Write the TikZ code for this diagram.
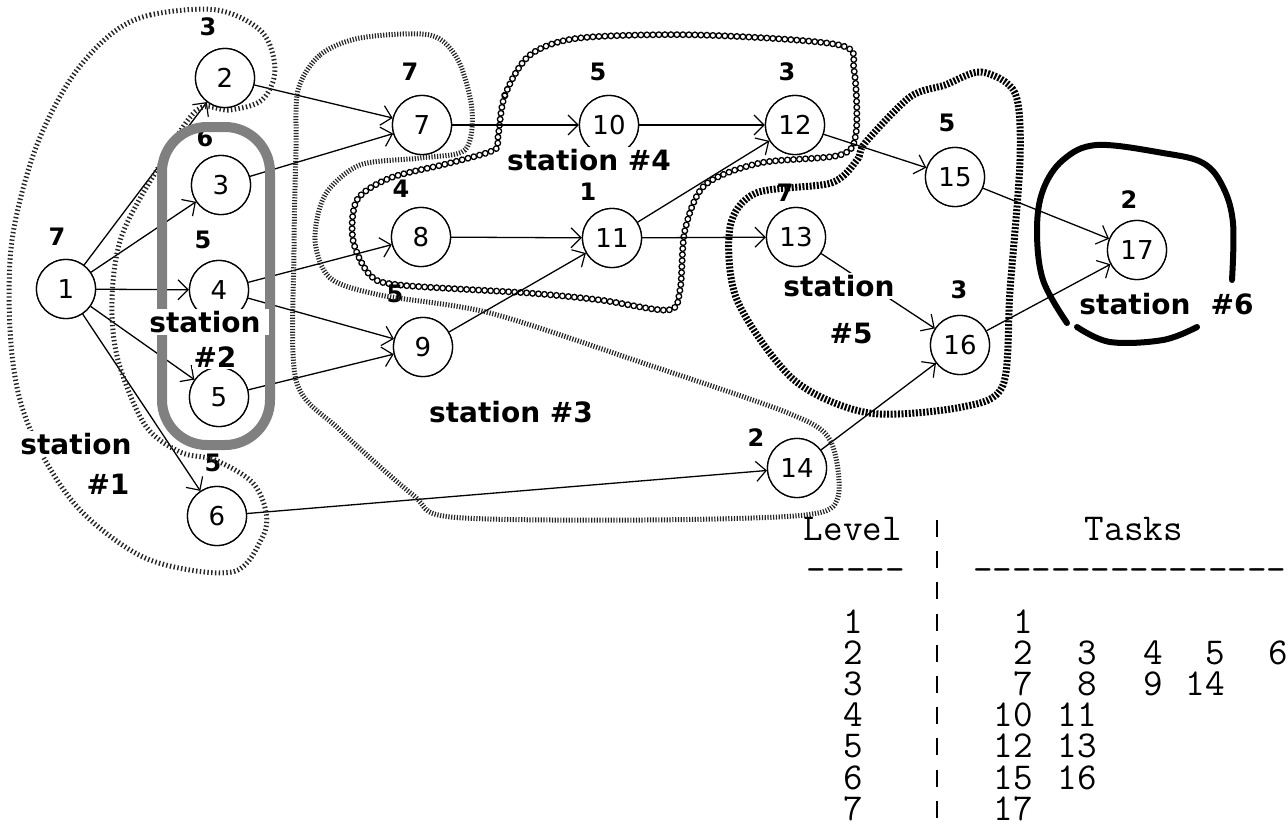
\documentclass[tikz,border=0pt]{standalone}
\usepackage{fontspec}
\usetikzlibrary{arrows.meta,decorations.markings}
\newfontfamily\gfont{DejaVu Sans}
\begin{document}
\begin{tikzpicture}[x=1pt,y=-1pt,
  task/.style={circle,draw,line width=1.3pt,fill=white,minimum size=59pt,inner sep=0pt,font=\gfont\fontsize{26}{26}\selectfont},
  wt/.style={font=\gfont\bfseries\fontsize{24}{24}\selectfont,inner sep=0pt},
  stlab/.style={font=\gfont\bfseries\fontsize{28}{28}\selectfont,fill=white,inner sep=2pt},
  conn/.style={line width=1.3pt,-{Straight Barb[length=10pt,width=20pt,line width=1.2pt]}},
  stone/.style={line width=5pt,draw=black!85,dash pattern=on 1.4pt off 2.4pt},
  sttwo/.style={line width=10pt,draw=black!50},
  stthree/.style={line width=5pt,draw=black!85,dash pattern=on 1.2pt off 1.6pt},
  stfour/.style={decorate,decoration={markings,mark=between positions 0 and 1 step 6pt with {\draw[line width=1.3pt] (0,0) circle (2.8pt);}}},
  stfive/.style={line width=7pt,draw=black,dash pattern=on 2pt off 1.6pt},
  stsix/.style={line width=6pt,draw=black,line cap=round},
  tabtxt/.style={font=\ttfamily\fontsize{38}{38}\selectfont,inner sep=0pt,anchor=base east,text height=24pt,text depth=0pt}
]
\useasboundingbox (0,0) rectangle (1288,827);

% task nodes
\node[task] (n1) at (66,289) {1};
\node[task] (n2) at (225,78) {2};
\node[task] (n3) at (221,185) {3};
\node[task] (n4) at (219,290) {4};
\node[task] (n5) at (219,397) {5};
\node[task] (n6) at (217,516) {6};
\node[task] (n7) at (422,125) {7};
\node[task] (n8) at (421,237) {8};
\node[task] (n9) at (423,347) {9};
\node[task] (n10) at (609,125) {10};
\node[task] (n11) at (612,238) {11};
\node[task] (n12) at (795,125) {12};
\node[task] (n13) at (796,237) {13};
\node[task] (n14) at (797,468) {14};
\node[task] (n15) at (955,177) {15};
\node[task] (n16) at (960,345) {16};
\node[task] (n17) at (1137,250) {17};

% connectors
\foreach \a/\b in {n1/n2,n1/n3,n1/n4,n1/n5,n1/n6,n2/n7,n3/n7,n4/n8,n4/n9,n5/n9,n6/n14,n7/n10,n8/n11,n9/n11,n10/n12,n11/n12,n11/n13,n12/n15,n13/n16,n14/n16,n15/n17,n16/n17}
  \draw[conn] (\a) -- (\b);

% weights
\node[wt] (w1) at (57,237) {7};
\node[wt] (w2) at (208,27) {3};
\node[wt] (w3) at (205,138) {6};
\node[wt] (w4) at (203,240) {5};
\node[wt] (w6) at (213,463) {5};
\node[wt] (w7) at (410,72) {7};
\node[wt] (w8) at (401,189) {4};
\node[wt] (w9) at (395,294) {5};
\node[wt] (w10) at (598,72) {5};
\node[wt] (w11) at (588,192) {1};
\node[wt] (w12) at (787,72) {3};
\node[wt] (w13) at (785,193) {7};
\node[wt] (w14) at (756,438) {2};
\node[wt] (w15) at (947,123) {5};
\node[wt] (w16) at (959,290) {3};
\node[wt] (w17) at (1129,200) {2};

% station boundaries
\draw[stone] plot[smooth cycle,tension=0.55] coordinates {(110,35) (150,15) (217,10) (262,32) (275,70) (262,100) (230,110) (197,110) (160,165) (122,235) (112,300) (118,360) (145,425) (180,452) (215,460) (252,482) (266,512) (262,538) (232,572) (150,560) (85,515) (45,460) (20,400) (10,330) (12,240) (35,150) (70,80)};
\draw[sttwo,rounded corners=45pt] (162,127) rectangle (270,445);
\draw[stthree] plot[smooth cycle,tension=0.5] coordinates {(298,90) (320,55) (360,38) (430,35) (458,60) (472,110) (465,150) (420,158) (360,165) (325,195) (315,240) (330,278) (380,295) (490,313) (643,363) (788,413) (830,440) (838,497) (805,515) (643,520) (451,517) (413,495) (340,430) (296,380) (294,250) (296,150)};
\path[stfour] plot[smooth cycle,tension=0.5] coordinates {(498,137) (505,95) (530,55) (580,38) (700,35) (839,45) (854,70) (856,133) (840,155) (760,163) (705,185) (685,230) (680,290) (668,310) (600,300) (528,293) (400,285) (370,275) (353,240) (357,200) (390,178) (450,163) (494,150)};
\draw[stfive] plot[smooth cycle,tension=0.5] coordinates {(865,143) (910,97) (945,85) (981,72) (1015,93) (1020,160) (1010,290) (1003,385) (962,407) (869,413) (794,380) (737,300) (730,227) (756,193) (831,183) (857,160)};
\draw[stsix] plot[smooth,tension=0.6] coordinates {(1067,323) (1043,280) (1037,230) (1043,190) (1063,160) (1097,145) (1163,153) (1203,163) (1223,187) (1233,223) (1232,280)};
\draw[stsix] plot[smooth,tension=0.6] coordinates {(1077,327) (1110,342) (1163,340) (1197,327)};

% redraw nodes above boundaries
\foreach \x/\y/\t in {66/289/1,225/78/2,221/185/3,219/290/4,219/397/5,217/516/6,422/125/7,421/237/8,423/347/9,609/125/10,612/238/11,795/125/12,796/237/13,797/468/14,955/177/15,960/345/16,1137/250/17}
  \node[task] at (\x,\y) {\t};

% station labels
\node[stlab,inner xsep=7pt] (s1a) at (76,444) {station};
\node[stlab] (s1b) at (108,484) {\#1};
\node[stlab,inner xsep=8pt] (s2a) at (205,322) {station};
\node[stlab] (s2b) at (215,357) {\#2};
\node[stlab] (s3) at (511,412) {station \#3};
\node[stlab] (s4) at (589,160) {station \#4};
\node[stlab] (s5a) at (839,286) {station};
\node[stlab] (s5b) at (851,333) {\#5};
\node[stlab] (s6a) at (1135,304) {station};
\node[stlab] (s6b) at (1232,304) {\#6};

% level table
\node[tabtxt] (lv) at (902,540) {Level};
\node[tabtxt] (tk) at (1183,540) {Tasks};
\node[tabtxt] (d1) at (905,581) {-----};
\node[tabtxt,anchor=base west] (d2) at (973,581) {----------------};
\coordinate (bt) at (937,520);
\coordinate (bb) at (937,827);
\draw[line width=1.5pt,dash pattern=on 17pt off 14.2pt] (bt) -- (bb);
\foreach \r/\tasks in {1/{1033/1},2/{1033/2,1097/3,1163/4,1225/5,1288/6},3/{1033/7,1097/8,1163/9,1225/14},4/{1033/10,1097/11},5/{1033/12,1097/13},6/{1033/15,1097/16},7/{1033/17}}{
  \pgfmathsetmacro{\yy}{633+(\r-1)*31.2}
  \node[tabtxt] at (863,\yy) {\r};
  \foreach \xx/\tt in \tasks { \node[tabtxt] at (\xx,\yy) {\tt}; }
}
\end{tikzpicture}
\end{document}
